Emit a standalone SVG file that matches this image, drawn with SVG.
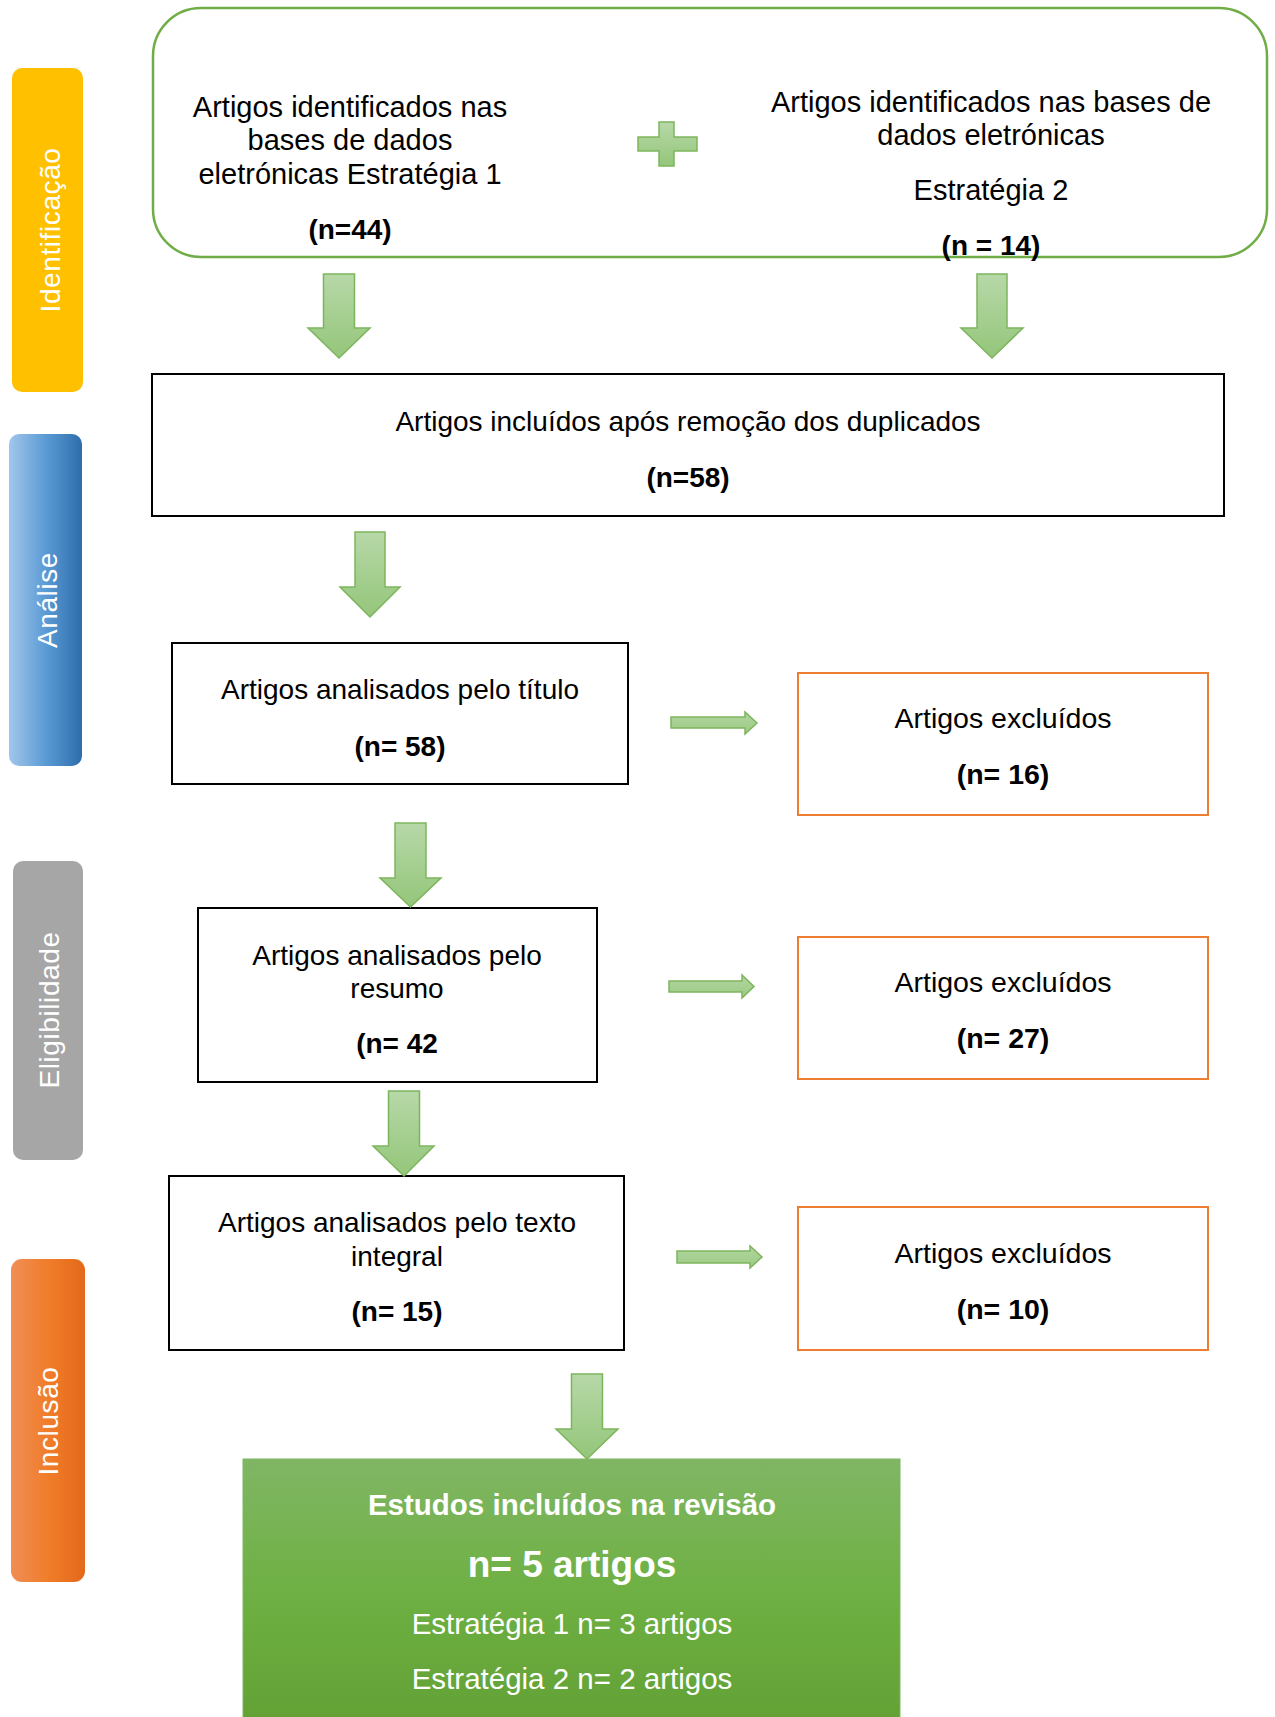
<svg xmlns="http://www.w3.org/2000/svg" width="1275" height="1717" viewBox="0 0 1275 1717">
  <defs>
    <linearGradient id="gArrowV" x1="0" y1="0" x2="0" y2="1">
      <stop offset="0" stop-color="#B7D8A8"/>
      <stop offset="1" stop-color="#94C67A"/>
    </linearGradient>
    <linearGradient id="gArrowH" x1="0" y1="0" x2="0" y2="1">
      <stop offset="0" stop-color="#B2D5A0"/>
      <stop offset="1" stop-color="#9CCB84"/>
    </linearGradient>
    <linearGradient id="gBlue" x1="0" y1="0" x2="1" y2="0">
      <stop offset="0" stop-color="#A2C6EA"/>
      <stop offset="0.5" stop-color="#5B9BD5"/>
      <stop offset="1" stop-color="#2E6DAB"/>
    </linearGradient>
    <linearGradient id="gOrange" x1="0" y1="0" x2="1" y2="0">
      <stop offset="0" stop-color="#F08E55"/>
      <stop offset="0.5" stop-color="#F07D2A"/>
      <stop offset="1" stop-color="#E4691A"/>
    </linearGradient>
    <linearGradient id="gFinal" x1="0" y1="0" x2="0" y2="1">
      <stop offset="0" stop-color="#80B664"/>
      <stop offset="0.5" stop-color="#6EB043"/>
      <stop offset="1" stop-color="#62A034"/>
    </linearGradient>
  </defs>
  <style>
    text { font-family: "Liberation Sans", Arial, sans-serif; }
    .t { font-size: 28px; fill: #000; text-anchor: middle; }
    .b { font-size: 28px; font-weight: bold; fill: #000; text-anchor: middle; }
    .top { font-size: 29px; }
    .ex { font-size: 28.5px; }
    .side { font-size: 28px; fill: #FFFFFF; text-anchor: middle; letter-spacing: 0.6px; }
    .box { fill: #FFFFFF; stroke: #000000; stroke-width: 2; }
    .excl { fill: #FFFFFF; stroke: #ED7D31; stroke-width: 2; }
    .arrV { fill: url(#gArrowV); stroke: #7DB55C; stroke-width: 1.5; }
    .arrH { fill: url(#gArrowH); stroke: #7DB55C; stroke-width: 1.5; }
    .w { fill: #FFFFFF; text-anchor: middle; }
  </style>
  <rect width="1275" height="1717" fill="#FFFFFF"/>

  <!-- Side stage tabs -->
  <g id="tab-identificacao">
    <rect x="12" y="68" width="71" height="324" rx="10" fill="#FFC000"/>
    <text class="side" transform="translate(60,230) rotate(-90)">Identificação</text>
  </g>
  <g id="tab-analise">
    <rect x="9" y="434" width="73" height="332" rx="10" fill="url(#gBlue)"/>
    <text class="side" transform="translate(57,600) rotate(-90)">Análise</text>
  </g>
  <g id="tab-eligibilidade">
    <rect x="13" y="861" width="70" height="299" rx="10" fill="#A6A6A6"/>
    <text class="side" transform="translate(59,1010) rotate(-90)">Eligibilidade</text>
  </g>
  <g id="tab-inclusao">
    <rect x="11" y="1259" width="74" height="323" rx="11" fill="url(#gOrange)"/>
    <text class="side" transform="translate(58,1421) rotate(-90)">Inclusão</text>
  </g>

  <!-- Identification node -->
  <g id="node-identificacao">
    <rect x="153" y="8" width="1114" height="249" rx="48" ry="48" fill="#FFFFFF" stroke="#70AD47" stroke-width="2.5"/>
    <text class="t top" x="350" y="117">Artigos identificados nas</text>
    <text class="t top" x="350" y="150">bases de dados</text>
    <text class="t top" x="350" y="184">eletrónicas Estratégia 1</text>
    <text class="b" x="350" y="239">(n=44)</text>
    <text class="t top" x="991" y="112">Artigos identificados nas bases de</text>
    <text class="t top" x="991" y="145">dados eletrónicas</text>
    <text class="t top" x="991" y="200">Estratégia 2</text>
    <text class="b" x="991" y="255">(n = 14)</text>
  </g>
  <g id="plus">
    <path class="arrV" d="M659,122 H674 V137 H697 V151 H674 V166 H659 V151 H638 V137 H659 Z"/>
  </g>

  <g id="node-duplicados">
    <rect class="box" x="152" y="374" width="1072" height="142"/>
    <text class="t" x="688" y="431">Artigos incluídos após remoção dos duplicados</text>
    <text class="b" x="688" y="487">(n=58)</text>
  </g>

  <g id="node-titulo">
    <rect class="box" x="172" y="643" width="456" height="141"/>
    <text class="t" x="400" y="699">Artigos analisados pelo título</text>
    <text class="b" x="400" y="756">(n= 58)</text>
  </g>

  <g id="node-excluidos-1">
    <rect class="excl" x="798" y="673" width="410" height="142"/>
    <text class="t ex" x="1003" y="728">Artigos excluídos</text>
    <text class="b ex" x="1003" y="784">(n= 16)</text>
  </g>

  <g id="node-resumo">
    <rect class="box" x="198" y="908" width="399" height="174"/>
    <text class="t" x="397" y="965">Artigos analisados pelo</text>
    <text class="t" x="397" y="998">resumo</text>
    <text class="b" x="397" y="1053">(n= 42</text>
  </g>

  <g id="node-excluidos-2">
    <rect class="excl" x="798" y="937" width="410" height="142"/>
    <text class="t ex" x="1003" y="992">Artigos excluídos</text>
    <text class="b ex" x="1003" y="1048">(n= 27)</text>
  </g>

  <g id="node-texto-integral">
    <rect class="box" x="169" y="1176" width="455" height="174"/>
    <text class="t" x="397" y="1232">Artigos analisados pelo texto</text>
    <text class="t" x="397" y="1266">integral</text>
    <text class="b" x="397" y="1321">(n= 15)</text>
  </g>

  <g id="node-excluidos-3">
    <rect class="excl" x="798" y="1207" width="410" height="143"/>
    <text class="t ex" x="1003" y="1263">Artigos excluídos</text>
    <text class="b ex" x="1003" y="1319">(n= 10)</text>
  </g>

  <g id="node-incluidos">
    <rect x="243" y="1459" width="657" height="270" fill="url(#gFinal)" stroke="#7FB562" stroke-width="1"/>
    <text class="w" x="572" y="1515" font-size="29.5" font-weight="bold">Estudos incluídos na revisão</text>
    <text class="w" x="572" y="1577" font-size="37" font-weight="bold">n= 5 artigos</text>
    <text class="w" x="572" y="1634" font-size="29.5">Estratégia 1 n= 3 artigos</text>
    <text class="w" x="572" y="1689" font-size="29.5">Estratégia 2 n= 2 artigos</text>
  </g>

  <!-- Connectors -->
  <g id="connectors">
    <path class="arrV" d="M323.5,274 H354.5 V328 H370 L339,358 L308,328 H323.5 Z"/>
    <path class="arrV" d="M977,274 H1007 V328 H1023 L992,358 L961,328 H977 Z"/>
    <path class="arrV" d="M355,532 H385 V587 H400 L370,617 L340,587 H355 Z"/>
    <path class="arrV" d="M395,823 H426 V878 H441 L410.5,907 L380,878 H395 Z"/>
    <path class="arrV" d="M388.5,1091 H419.5 V1146 H434 L404,1176 L373,1146 H388.5 Z"/>
    <path class="arrV" d="M571.5,1374 H602.5 V1429 H618 L587,1459 L556,1429 H571.5 Z"/>
    <path class="arrH" d="M671,717 H745 V712 L757,723 L745,734 V728 H671 Z"/>
    <path class="arrH" d="M669,981 H742 V975 L754,986.5 L742,998 V992 H669 Z"/>
    <path class="arrH" d="M677,1251 H750 V1246 L762,1257 L750,1268 V1263 H677 Z"/>
  </g>
</svg>
